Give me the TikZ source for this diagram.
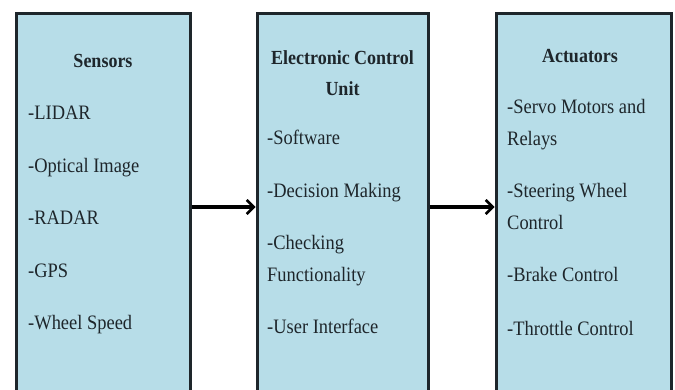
\documentclass[tikz,border=0pt]{standalone}
\usepackage{fontspec}
\setmainfont{Liberation Serif}[FakeStretch=0.9]
\usetikzlibrary{arrows.meta}
\definecolor{boxfill}{HTML}{B7DDE8}
\definecolor{ink}{HTML}{1E262B}
\begin{document}
\begin{tikzpicture}[x=1pt,y=-1pt,
  box/.style={draw=ink, line width=3pt, fill=boxfill, rectangle, inner sep=0pt},
  txt/.style={anchor=base west, inner sep=0pt, text=ink, font=\fontsize{20.5}{24}\selectfont},
  ttl/.style={anchor=base, inner sep=0pt, text=ink, font=\fontsize{20}{24}\selectfont\bfseries},
  arr/.style={draw=black, line width=3.5pt, -{Straight Barb[length=7pt,width=14pt,line width=2.5pt]}}]
\useasboundingbox (0,0) rectangle (675,390);
\clip (0,0) rectangle (675,390);
% boxes
\node[box, minimum width=174pt, minimum height=386pt] (sens) at (103,207) {};
\node[box, minimum width=171pt, minimum height=386pt] (ecu) at (342.5,207) {};
\node[box, minimum width=175pt, minimum height=386pt] (act) at (583.5,207) {};
% arrows
\draw[arr] (sens.east) -- (ecu.west);
\draw[arr] (ecu.east) -- (act.west);
% Sensors
\node[ttl] (t1) at (103,68) {Sensors};
\node[txt] (s1) at (28,120) {-LIDAR};
\node[txt] (s2) at (28,173) {-Optical Image};
\node[txt] (s3) at (28,225) {-RADAR};
\node[txt] (s4) at (28,277) {-GPS};
\node[txt] (s5) at (28,330) {-Wheel Speed};
% ECU
\node[ttl] (t2a) at (342.5,65) {Electronic Control};
\node[ttl] (t2b) at (342.5,96) {Unit};
\node[txt] (e1) at (267,145) {-Software};
\node[txt] (e2) at (267,198) {-Decision Making};
\node[txt] (e3) at (267,250) {-Checking};
\node[txt] (e3b) at (267,282) {Functionality};
\node[txt] (e4) at (267,334) {-User Interface};
% Actuators
\node[ttl] (t3) at (580,63) {Actuators};
\node[txt] (a1) at (507,114) {-Servo Motors and};
\node[txt] (a1b) at (507,146) {Relays};
\node[txt] (a2) at (507,198) {-Steering Wheel};
\node[txt] (a2b) at (507,230) {Control};
\node[txt] (a3) at (507,282) {-Brake Control};
\node[txt] (a4) at (507,335) {-Throttle Control};
\end{tikzpicture}
\end{document}
